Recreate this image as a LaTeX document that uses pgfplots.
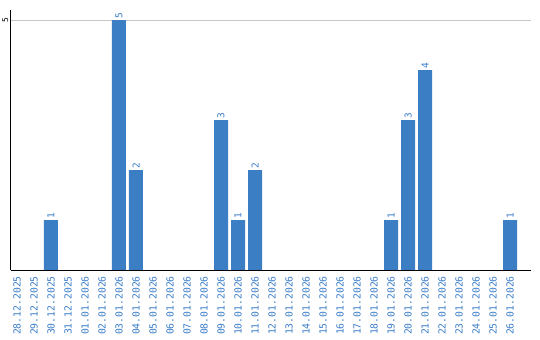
\documentclass[border=0pt]{standalone}
\usepackage{pgfplots}
\pgfplotsset{compat=1.18}
\usepackage{fontspec}
\setmainfont{DejaVu Sans Mono}
\definecolor{barblue}{RGB}{59,126,196}
\definecolor{lblblue}{RGB}{58,125,200}
\begin{document}
\begin{tikzpicture}
\useasboundingbox (0,0) rectangle (540bp,340bp);
\begin{axis}[
  at={(10.5bp,70bp)}, anchor=south west,
  scale only axis, width=520bp, height=260bp,
  xmin=-0.38, xmax=30.2, ymin=0, ymax=5.2,
  axis lines=left, axis line style={-, black, line width=1bp},
  ybar, bar width=14bp, bar shift=0pt,
  xtick={0,...,29},
  xticklabels={28.12.2025,29.12.2025,30.12.2025,31.12.2025,01.01.2026,02.01.2026,03.01.2026,04.01.2026,05.01.2026,06.01.2026,07.01.2026,08.01.2026,09.01.2026,10.01.2026,11.01.2026,12.01.2026,13.01.2026,14.01.2026,15.01.2026,16.01.2026,17.01.2026,18.01.2026,19.01.2026,20.01.2026,21.01.2026,22.01.2026,23.01.2026,24.01.2026,25.01.2026,26.01.2026},
  xticklabel style={yshift=-6bp, rotate=90, anchor=east, font=\fontsize{9.8}{10}\selectfont, text=lblblue, inner sep=0pt},
  major tick length=0pt,
  ytick={5},
  /pgf/number format/assume math mode=true,
  yticklabel style={xshift=-2bp, rotate=90, anchor=south, font=\fontsize{8}{9}\selectfont, text=black, inner sep=0pt},
  ymajorgrids, grid style={line width=1bp, color=black!22},
  nodes near coords,
  nodes near coords style={rotate=90, anchor=west, text=lblblue, font=\fontsize{9.5}{10}\selectfont, inner sep=1.5bp},
]
\addplot[fill=barblue, draw=none] coordinates {
  (2,1) (6,5) (7,2) (12,3) (13,1) (14,2) (22,1) (23,3) (24,4) (29,1)
};
\end{axis}
\end{tikzpicture}
\end{document}
